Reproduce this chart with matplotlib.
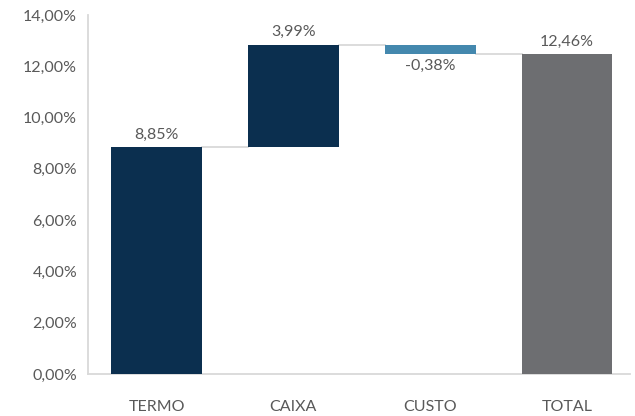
import matplotlib.pyplot as plt
from matplotlib.ticker import FuncFormatter

categorias = ['TERMO', 'CAIXA', 'CUSTO', 'TOTAL']
variacoes = [8.85, 3.99, -0.38, 12.46]
cores = ['#0b2f4f', '#0b2f4f', '#4488ae', '#6d6e71']

plt.rcParams['font.family'] = ['Lato', 'DejaVu Sans']
cinza = '#595959'

# base de cada barra (cascata)
bases = []
acum = 0
for i, v in enumerate(variacoes):
    if i == len(variacoes) - 1:
        bases.append(0)
    else:
        bases.append(acum if v >= 0 else acum + v)
        acum += v
alturas = [abs(v) for v in variacoes]
topos = [b + h for b, h in zip(bases, alturas)]

fig, ax = plt.subplots(figsize=(6.35, 4.16), dpi=100)
plt.subplots_adjust(left=0.139, right=0.992, top=0.964, bottom=0.101)

x = range(len(categorias))
ax.bar(x, alturas, bottom=bases, width=0.665, color=cores, zorder=3)

# linhas de ligacao
nivel = 0
for i in range(len(variacoes) - 1):
    nivel += variacoes[i]
    ax.plot([i + 0.3325, i + 1 - 0.3325], [nivel, nivel], color='#d9d9d9',
            lw=1.3, zorder=2)

for i, v in enumerate(variacoes):
    txt = f'{v:.2f}%'.replace('.', ',')
    if v >= 0:
        ax.annotate(txt, (i, topos[i]), xytext=(0, 4), textcoords='offset points',
                    ha='center', va='bottom', fontsize=11.5, color=cinza)
    else:
        ax.annotate(txt, (i, bases[i]), xytext=(0, -3), textcoords='offset points',
                    ha='center', va='top', fontsize=11.5, color=cinza)

ax.set_ylim(0, 14)
ax.set_yticks(range(0, 15, 2))
ax.yaxis.set_major_formatter(FuncFormatter(lambda v, p: f'{v:.2f}%'.replace('.', ',')))
ax.set_xlim(-0.5, 3.46)
ax.set_xticks(list(x))
ax.set_xticklabels(categorias)

for s in ['top', 'right']:
    ax.spines[s].set_visible(False)
ax.spines['left'].set_color('#d9d9d9')
ax.spines['bottom'].set_color('#d9d9d9')
ax.spines['left'].set_linewidth(1.3)
ax.spines['bottom'].set_linewidth(1.3)
ax.tick_params(axis='both', length=0, colors=cinza, labelsize=11.5)
ax.tick_params(axis='x', pad=19)
ax.tick_params(axis='y', pad=8)

fig.savefig('out.png', dpi=100)
